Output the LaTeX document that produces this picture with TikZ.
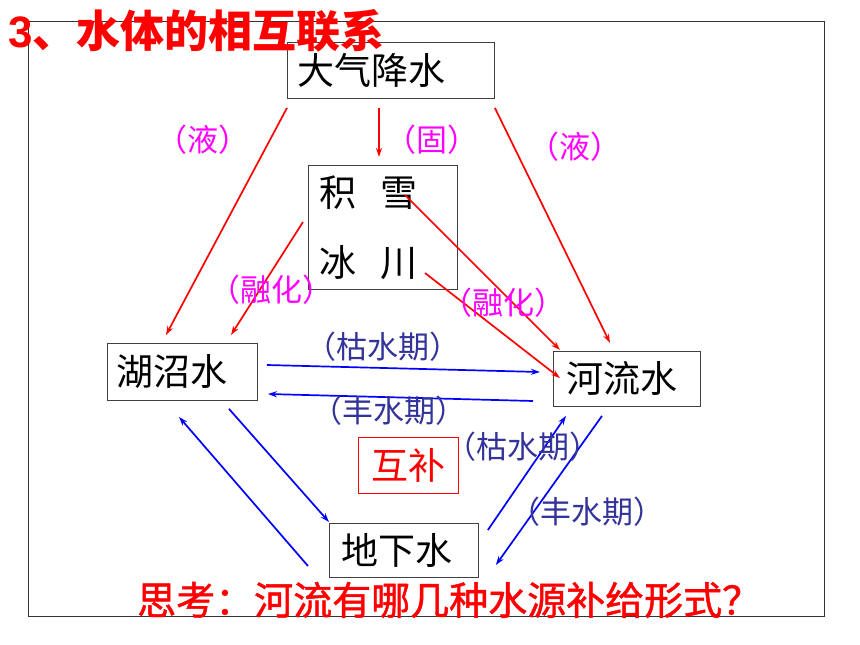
\documentclass[tikz,border=0pt]{standalone}
\usepackage{fontspec}
\setmainfont{Liberation Sans}
\newfontfamily\cjk{Noto Sans CJK SC}
\newfontfamily\cjkfb{Noto Sans CJK SC}[FakeBold=1.2]
\usetikzlibrary{arrows.meta,calc}
\definecolor{lblue}{HTML}{333399}
\definecolor{pink}{HTML}{FF00FF}
\begin{document}
\begin{tikzpicture}[x=1pt,y=-1pt,
  box/.style={draw=black!75, line width=0.9pt, anchor=north west, align=left,
    font=\cjk\fontsize{37}{40}\selectfont},
  lbl/.style={font=\cjk\fontsize{31}{34}\selectfont, inner sep=0pt},
  redarr/.style={draw=red, line width=1.7pt, -{Stealth[length=9pt,width=6pt]}},
  bluearr/.style={draw=blue, line width=1.7pt, -{Stealth[length=9pt,width=6pt]}}]
\useasboundingbox (0,0) rectangle (860,645);
\fill[white] (0,0) rectangle (860,645);
\draw[black!80, line width=0.9pt] (28,21) rectangle (824,616);

% boxes
\node[box, minimum height=56pt, text width=187pt, inner xsep=10pt] (rain) at (287,42) {大气降水};
\node[box, minimum height=124pt, text width=127pt, inner xsep=11pt,
  font=\cjk\fontsize{37}{70}\selectfont] (snow) at (308,165) {积\hspace{24pt}雪\\冰\hspace{24pt}川};
\node[box, minimum height=57pt, text width=132pt, inner xsep=9pt] (lake) at (107,343) {湖沼水};
\node[box, minimum height=55pt, text width=121pt, inner xsep=13pt] (river) at (553,351) {河流水};
\node[box, minimum height=54pt, text width=125pt, inner xsep=12pt] (ground) at (329,523) {地下水};
\node[draw=red, line width=1pt, anchor=north west, minimum width=100pt, minimum height=56pt,
  text=red, font=\cjk\fontsize{37}{40}\selectfont] (hubu) at (358,437) {互补};

% title and question
\node[anchor=west, inner sep=0pt, text=red, font=\bfseries\fontsize{44}{48}\selectfont] (title) at (8,31) {3\cjk、水体的相互联系};
\node[anchor=west, inner sep=0pt, text=red, font=\cjkfb\fontsize{39}{42}\selectfont] (think) at (137,600) {思考：河流有哪几种水源补给形式？};

% red arrows
\draw[redarr] ($(rain.south west)+(0,9)$) -- ($(lake.north west)+(59,-8)$);
\draw[redarr] ($(rain.south west)+(92,9)$) -- ($(snow.north west)+(71,-8)$);
\draw[redarr] ($(rain.south east)+(0,9)$) -- ($(river.north west)+(57,-8)$);
\draw[redarr] ($(snow.north west)+(-5,57)$) -- ($(lake.north west)+(124,-8)$);
\draw[redarr] ($(snow.north west)+(97,30)$) -- ($(river.north west)+(7,-1)$);
\draw[redarr] ($(snow.north west)+(117,108)$) -- ($(river.north west)+(7,27)$);

% blue arrows
\draw[bluearr] ($(lake.north east)+(9,22)$) -- ($(river.north west)+(-13,21)$);
\draw[bluearr] ($(river.north west)+(-20,50)$) -- ($(lake.north east)+(10,51)$);
\draw[bluearr] ($(lake.south west)+(122,8)$) -- ($(ground.north west)+(0,-1)$);
\draw[bluearr] ($(ground.north west)+(-21,43)$) -- ($(lake.south west)+(72,16)$);
\draw[bluearr] ($(ground.north east)+(9,7)$) -- ($(river.south west)+(13,9)$);
\draw[bluearr] ($(river.south west)+(49,9)$) -- ($(ground.north east)+(17,42)$);

% labels
\node[lbl, text=pink] (l1) at (203,140) {（液）};
\node[lbl, text=pink] (l2) at (432,140) {（固）};
\node[lbl, text=pink] (l3) at (575,147) {（液）};
\node[lbl, text=pink] (l4) at (271,290) {（融化）};
\node[lbl, text=pink] (l5) at (503,303) {（融化）};
\node[lbl, text=lblue] (l6) at (383,347) {（枯水期）};
\node[lbl, text=lblue] (l7) at (389,411) {（丰水期）};
\node[lbl, text=lblue] (l8) at (523,447) {（枯水期）};
\node[lbl, text=lblue] (l9) at (587,512) {（丰水期）};
\end{tikzpicture}
\end{document}
